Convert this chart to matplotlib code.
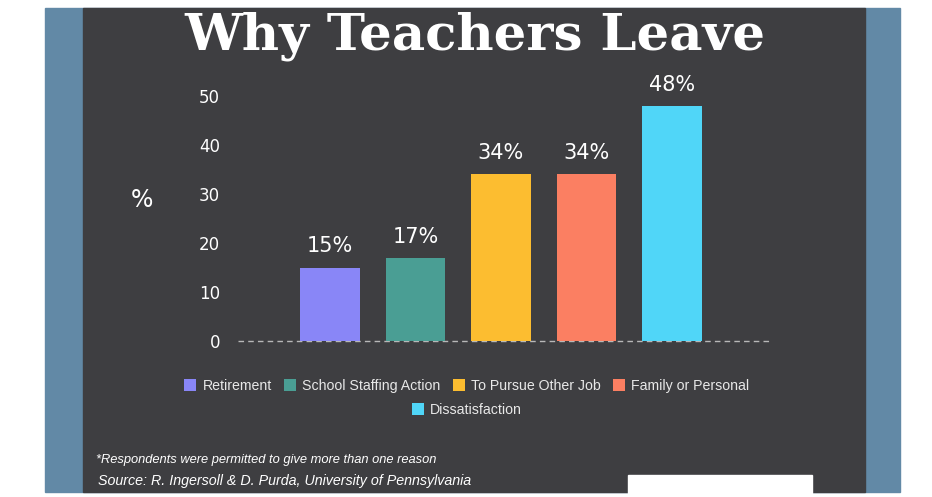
import matplotlib.pyplot as plt
from matplotlib.patches import Rectangle

reasons = ["Retirement", "School Staffing Action", "To Pursue Other Job",
           "Family or Personal", "Dissatisfaction"]
percent = [15, 17, 34, 34, 48]
bar_colors = ["#8986f7", "#4a9e94", "#fcbd30", "#fb7f62", "#50d6f8"]
yticks = [0, 10, 20, 30, 40, 50]

W, H = 932, 497
bg = "#3e3e41"
band = "#6289a6"

fig = plt.figure(figsize=(W / 100, H / 100), dpi=100, facecolor="white")

# board frame (behind the axes)
fig.patches.append(Rectangle((45 / W, 5 / H), 855 / W, 484 / H, transform=fig.transFigure,
                             color=band, zorder=-10))
fig.patches.append(Rectangle((83 / W, 5 / H), 782 / W, 484 / H, transform=fig.transFigure,
                             color=bg, zorder=-9))
fig.patches.append(Rectangle((628 / W, 0), 184 / W, 22 / H, transform=fig.transFigure,
                             color="white", zorder=-8))

ax = fig.add_axes([238 / W, (H - 341) / H, 534 / W, 245 / H])
ax.set_facecolor("none")

x = list(range(len(reasons)))
bars = ax.bar(x, percent, width=0.7, color=bar_colors, label=reasons, zorder=2)
for b, v in zip(bars, percent):
    ax.annotate(f"{v}%", (b.get_x() + b.get_width() / 2, v), xytext=(0, 8),
                textcoords="offset points", ha="center", va="bottom",
                color="white", fontsize=15, fontfamily="DejaVu Sans")

ax.set_xlim(-1.076, 5.17)
ax.set_ylim(0, 50)
ax.set_yticks(yticks)
ax.set_xticks([])
ax.tick_params(axis="y", length=0, pad=13, labelcolor="white", labelsize=12)
for s in ax.spines.values():
    s.set_visible(False)
ax.axhline(0, color="#b8b8b8", lw=1, ls=(0, (4, 3)), clip_on=False, zorder=1)

fig.text(142 / W, 1 - 200 / H, "%", color="white", fontsize=17, ha="center", va="center")

fig.text(475 / W, 1 - 36 / H, "Why Teachers Leave", color="white", fontsize=37,
         fontweight="bold", fontfamily="DejaVu Serif", ha="center", va="center")

leg_kw = dict(frameon=False, prop={"family": "Liberation Sans", "size": 10.2},
              labelcolor="#e8e8e8", handlelength=0.85, handleheight=0.85,
              handletextpad=0.45, columnspacing=0.85, loc="center")
fig.legend(bars[:4], reasons[:4], ncol=4, bbox_to_anchor=(0.501, 1 - 386 / H), **leg_kw)
fig.legend(bars[4:], reasons[4:], ncol=1, bbox_to_anchor=(0.501, 1 - 410 / H), **leg_kw)

fig.text(96 / W, 1 - 460 / H, "*Respondents were permitted to give more than one reason",
         color="white", fontsize=9.3, style="italic", va="center", fontfamily="Liberation Sans")
fig.text(98 / W, 1 - 481 / H, "Source: R. Ingersoll & D. Purda, University of Pennsylvania",
         color="white", fontsize=10.3, style="italic", va="center", fontfamily="Liberation Sans")

fig.savefig("out.png", dpi=100, facecolor=fig.get_facecolor())
